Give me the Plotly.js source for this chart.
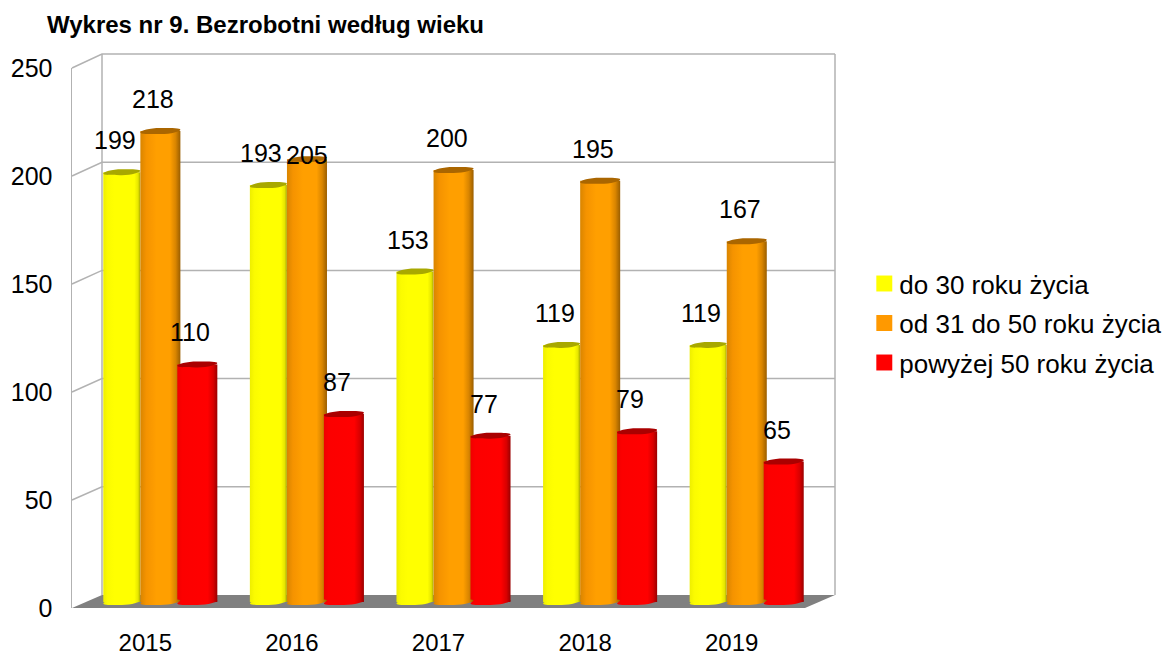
<!DOCTYPE html>
<html><head><meta charset="utf-8">
<script src="https://cdn.plot.ly/plotly-3.0.1.min.js"></script>
<style>html,body{margin:0;padding:0;background:#fff}</style></head>
<body><div id="chart" style="width:1166px;height:657px"></div>
<script>
const years = ['2015','2016','2017','2018','2019'];
const young = [199,193,153,119,119];
const middle = [218,205,200,195,167];
const older = [110,87,77,79,65];
const seriesNames = ['do 30 roku życia','od 31 do 50 roku życia','powyżej 50 roku życia'];
const seriesValues = [young, middle, older];
const seriesColors = ['#ffff00','#ff9900','#ff0000'];
const topColors = ['#a8a800','#aa6600','#aa0000'];
const barOffsets = [-0.389,-0.136,0.116];
const barWidths = [0.2525,0.273,0.273];
const yTicks = [0,50,100,150,200,250];
const W=1166,H=657;
const FONT='"Liberation Sans", Arial, sans-serif';
const px=x=>x/W, py=y=>1-y/H;
// chart box geometry (pixels)
const front={l:72,r:805,t:68,b:608}, back={l:102,r:835,t:54,b:595}, bars={l:87,r:820,t:62,b:602};
const stepF=(front.b-front.t)/250, stepB=(back.b-back.t)/250, stepBar=(bars.b-bars.t)/250;
const line={color:'#b2b2b2',width:1.5};
const shapes=[];
// floor and walls
const poly=(pts,close)=>pts.map((p,i)=>(i?'L':'M')+px(p[0])+','+py(p[1])).join(' ')+(close?' Z':'');
shapes.push({type:'path',xref:'paper',yref:'paper',layer:'below',path:poly([[front.l,front.b],[back.l,back.b],[back.r,back.b],[front.r,front.b]],true),fillcolor:'#808080',line:{width:0}});
yTicks.forEach(t=>{
  const yf=front.b-t*stepF, yb=back.b-t*stepB;
  if(t>0) shapes.push({type:'path',xref:'paper',yref:'paper',layer:'below',path:poly([[front.l,yf],[back.l,yb],[back.r,yb]]),line});
});
shapes.push({type:'path',xref:'paper',yref:'paper',layer:'below',path:poly([[back.l,back.b],[back.l,back.t]]),line});
shapes.push({type:'path',xref:'paper',yref:'paper',layer:'below',path:poly([[back.r,back.b],[back.r,back.t]]),line});
// cylinder caps
function cap(cx,cy,wUnits){
  const rx=wUnits/2, ry=3/stepBar, t=1.4/stepBar, kx=rx*0.55, ky=ry*0.55;
  return `M${cx-rx},${cy-t} C${cx-rx},${cy-t+ky} ${cx-kx},${cy+ry} ${cx},${cy+ry} `+
         `C${cx+kx},${cy+ry} ${cx+rx},${cy+t+ky} ${cx+rx},${cy+t} `+
         `C${cx+rx},${cy+t-ky} ${cx+kx},${cy-ry} ${cx},${cy-ry} `+
         `C${cx-kx},${cy-ry} ${cx-rx},${cy-t-ky} ${cx-rx},${cy-t} Z`;
}
const gradientShapes=[];
seriesValues.forEach((vals,s)=>vals.forEach((v,i)=>{
  const cx=i+barOffsets[s]+barWidths[s]/2;
  gradientShapes.push([shapes.length,s]);
  shapes.push({type:'path',xref:'x2',yref:'y2',layer:'above',path:cap(cx,0,barWidths[s]),fillcolor:seriesColors[s],line:{width:0}});
  shapes.push({type:'path',xref:'x2',yref:'y2',layer:'above',path:cap(cx,v,barWidths[s]),fillcolor:topColors[s],line:{width:0}});
}));
// data labels
const labelNudge={'1,1':[0,28]};
const annotations=[];
seriesValues.forEach((vals,s)=>vals.forEach((v,i)=>{
  const n=labelNudge[s+','+i]||[-7,0];
  annotations.push({xref:'x2',yref:'y2',x:i+barOffsets[s]+barWidths[s]/2,y:v,text:String(v),showarrow:false,
    xshift:n[0],yshift:32-n[1],font:{family:FONT,size:25,color:'#000'},xanchor:'center',yanchor:'middle'});
}));
const traces=seriesValues.map((vals,s)=>({type:'bar',name:seriesNames[s],x:years.map((_,i)=>i),y:vals,
  xaxis:'x2',yaxis:'y2',offset:barOffsets[s],width:barWidths[s],marker:{color:seriesColors[s],line:{width:0}},hoverinfo:'skip'}));
traces.push({type:'scatter',x:[0],y:[0],xaxis:'x',yaxis:'y',mode:'none',showlegend:false,hoverinfo:'skip'});
const layout={width:W,height:H,margin:{l:0,r:0,t:0,b:0},paper_bgcolor:'#fff',plot_bgcolor:'rgba(0,0,0,0)',
  barmode:'overlay',font:{family:FONT,color:'#000'},
  title:{text:'<b>Wykres nr 9. Bezrobotni według wieku</b>',x:px(47),xanchor:'left',y:py(25),yanchor:'middle',font:{family:FONT,size:24,color:'#000'}},
  xaxis:{domain:[px(front.l),px(front.r)],range:[-0.5,4.5],tickvals:[0,1,2,3,4],ticktext:years,anchor:'y',showgrid:false,zeroline:false,showline:false,ticks:'',ticklabelstandoff:18,tickfont:{family:FONT,size:24,color:'#000'}},
  yaxis:{domain:[py(front.b),py(front.t)],range:[0,250],tickvals:yTicks,anchor:'x',showgrid:false,zeroline:false,showline:true,linecolor:line.color,linewidth:1.5,ticks:'',ticklabelstandoff:13,tickfont:{family:FONT,size:25,color:'#000'}},
  xaxis2:{domain:[px(bars.l),px(bars.r)],range:[-0.5,4.5],visible:false,anchor:'y2',fixedrange:true},
  yaxis2:{domain:[py(bars.b+10.8),py(bars.t)],range:[-5,250],visible:false,anchor:'x2',fixedrange:true},
  legend:{x:px(800),xanchor:'left',y:py(326),yanchor:'middle',font:{family:FONT,size:26,color:'#000'},bgcolor:'rgba(0,0,0,0)',traceorder:'normal'},
  shapes,annotations,showlegend:true};
const gradStops=[
 [[0,'#eeee00'],[0.12,'#fbfb00'],[0.3,'#ffff00'],[0.84,'#ffff00'],[0.94,'#e6e600'],[1,'#a8a800']],
 [[0,'#d98500'],[0.15,'#f59300'],[0.4,'#ff9f00'],[0.74,'#ff9f00'],[0.88,'#d98500'],[1,'#9a5e00']],
 [[0,'#f00000'],[0.12,'#fc0000'],[0.76,'#ff0000'],[0.9,'#d80000'],[1,'#9a0000']]];
Plotly.newPlot('chart',traces,layout,{displayModeBar:false,staticPlot:true}).then(gd=>{
  const svg=gd.querySelector('svg.main-svg');
  const NS='http://www.w3.org/2000/svg';
  const defs=svg.querySelector('defs')||svg.appendChild(document.createElementNS(NS,'defs'));
  gradStops.forEach((st,s)=>{
    const g=document.createElementNS(NS,'linearGradient');
    g.setAttribute('id','cyl'+s);g.setAttribute('x1','0');g.setAttribute('x2','1');g.setAttribute('y1','0');g.setAttribute('y2','0');
    st.forEach(([o,c])=>{const e=document.createElementNS(NS,'stop');e.setAttribute('offset',o);e.setAttribute('stop-color',c);g.appendChild(e);});
    defs.appendChild(g);
  });
  gd.querySelectorAll('.barlayer .trace').forEach((tr,s)=>{
    tr.querySelectorAll('.point path').forEach(p=>{p.style.fill=`url(#cyl${s})`;});
  });
  gradientShapes.forEach(([idx,s])=>{
    gd.querySelectorAll(`.shapelayer path[data-index="${idx}"]`).forEach(p=>{p.style.fill=`url(#cyl${s})`;});
  });
  // legend placement, spacing, text gap and swatch size as in the reference
  const leg=gd.querySelector('.legend');
  const m=/translate\(\s*([-\d.]+)[ ,]+([-\d.]+)/.exec(leg.getAttribute('transform')||'');
  if(m) leg.setAttribute('transform',`translate(864.3,${m[2]})`);
  const sb=leg.querySelector('.scrollbox'); if(sb) sb.removeAttribute('clip-path');
  leg.querySelectorAll('.traces').forEach((t,i)=>{
    t.setAttribute('transform',`translate(0,${i*39.5+18})`);
    t.querySelectorAll('.legendbar path, .legendpoints path').forEach(p=>{
      p.setAttribute('transform','translate(20,0) scale(1.33)');p.style.fill=seriesColors[i];p.style.stroke='none';
    });
    const txt=t.querySelector('.legendtext');
    if(txt) txt.setAttribute('x',parseFloat(txt.getAttribute('x'))-5);
  });
});
</script></body></html>
